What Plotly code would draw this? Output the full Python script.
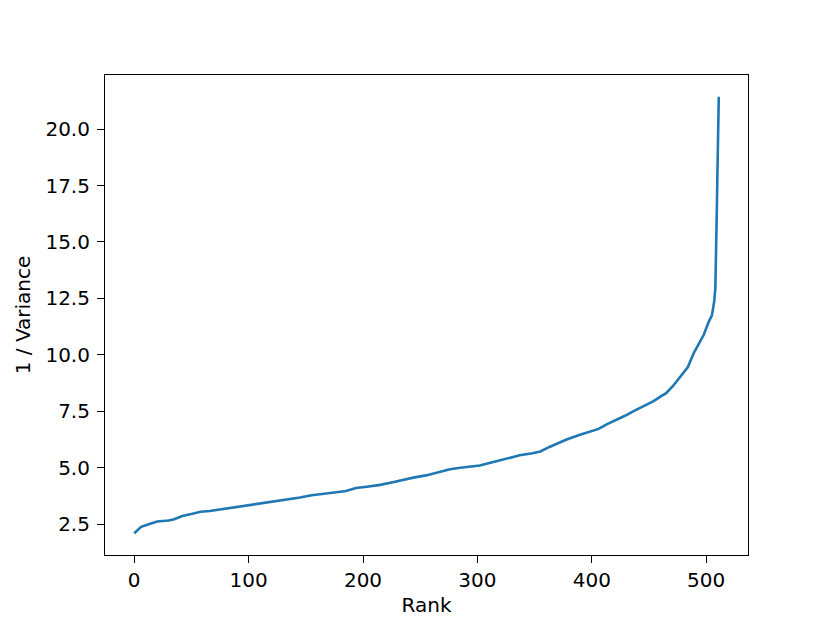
import plotly.graph_objects as go

# Ranks sampled along the curve and the 1/variance read at each
rank = [0, 3, 6, 10, 15, 20, 25, 30, 35, 42, 50, 58, 66, 75, 85, 99,
        110, 120, 130, 145, 155, 163, 175, 185, 194, 205, 215, 226, 235,
        244, 255, 265, 276, 285, 295, 302, 313, 325, 337, 348, 355, 363,
        370, 378, 389, 398, 406, 413, 421, 429, 437, 445, 454, 460, 465,
        471, 478, 484, 489, 493, 498, 502, 505, 507, 508, 509, 510, 511]
inv_var = [2.10, 2.25, 2.38, 2.45, 2.53, 2.62, 2.64, 2.66, 2.72, 2.86,
           2.95, 3.05, 3.08, 3.15, 3.22, 3.32, 3.42, 3.49, 3.55, 3.68,
           3.78, 3.84, 3.90, 3.97, 4.10, 4.17, 4.24, 4.36, 4.47, 4.56,
           4.66, 4.78, 4.93, 5.00, 5.05, 5.10, 5.24, 5.40, 5.55, 5.64,
           5.72, 5.92, 6.08, 6.25, 6.45, 6.60, 6.72, 6.92, 7.10, 7.30,
           7.52, 7.72, 7.95, 8.15, 8.30, 8.62, 9.07, 9.46, 10.07, 10.45,
           10.90, 11.44, 11.75, 12.36, 12.95, 15.6, 18.5, 21.43]

x_ticks = [0, 100, 200, 300, 400, 500]
y_ticks = [2.5, 5.0, 7.5, 10.0, 12.5, 15.0, 17.5, 20.0]

fig = go.Figure()
fig.add_trace(go.Scatter(x=rank, y=inv_var, mode="lines",
                         line=dict(color="#1f77b4", width=2.6)))

# matplotlib-like 5% margins
xpad = (max(rank) - min(rank)) * 0.05
ypad = (max(inv_var) - min(inv_var)) * 0.05

font = dict(family="DejaVu Sans", size=20, color="black")
axis_style = dict(showgrid=False, zeroline=False, showline=True, mirror=True,
                  linecolor="black", linewidth=1.1, ticks="outside",
                  ticklen=7, tickwidth=1.1, tickcolor="black", tickfont=font)

fig.update_xaxes(range=[min(rank) - xpad, max(rank) + xpad],
                 tickvals=x_ticks, ticktext=[str(v) for v in x_ticks],
                 title=dict(text="Rank", standoff=6, font=font),
                 **axis_style)
fig.update_yaxes(range=[min(inv_var) - ypad, max(inv_var) + ypad],
                 tickvals=y_ticks, ticktext=["%.1f" % v for v in y_ticks],
                 ticklabelstandoff=3,
                 title=dict(text="1 / Variance", standoff=9, font=font),
                 **axis_style)

fig.update_layout(width=830, height=623, showlegend=False,
                  paper_bgcolor="white", plot_bgcolor="white",
                  margin=dict(l=97, r=90, t=67, b=76))

fig.write_html("out.html")
